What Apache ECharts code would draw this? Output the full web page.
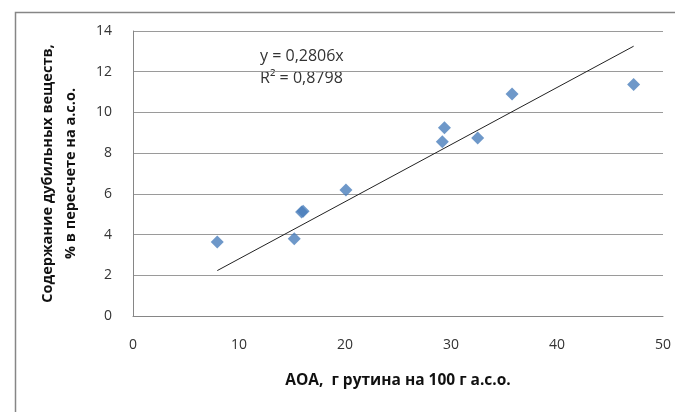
<!DOCTYPE html>
<html><head><meta charset="utf-8">
<script src="https://cdn.jsdelivr.net/npm/echarts@6/dist/echarts.min.js"></script>
<style>html,body{margin:0;padding:0;background:#fff}#c{width:675px;height:412px}</style>
</head><body><div id="c"></div>
<script>
// Data
const xValues = [7.95, 15.21, 15.9, 16.05, 20.09, 29.18, 29.38, 32.52, 35.76, 47.23];
const yValues = [3.64, 3.79, 5.11, 5.15, 6.19, 8.56, 9.25, 8.74, 10.90, 11.37];
const trendSlope = 0.2806;
const equationText = 'y = 0,2806x';
const r2Text = 'R² = 0,8798';
const xTitle = 'АОА,  г рутина на 100 г а.с.о.';
const yTitle = 'Содержание дубильных веществ,\n% в пересчете на а.с.о.';

const points = xValues.map((x, i) => [x, yValues[i]]);
const xMin = Math.min(...xValues), xMax = Math.max(...xValues);
const trend = [[xMin, trendSlope * xMin], [xMax, trendSlope * xMax]];

const FONT = '"Open Sans", sans-serif';
const chart = echarts.init(document.getElementById('c'), null, {renderer: 'canvas'});
chart.setOption({
  animation: false,
  backgroundColor: '#fff',
  grid: {left: 133, right: 12, top: 31, bottom: 96, containLabel: false},
  xAxis: {
    type: 'value', min: 0, max: 50, interval: 10,
    axisLine: {show: true, lineStyle: {color: '#868686', width: 1}},
    axisTick: {show: false},
    splitLine: {show: false},
    axisLabel: {color: '#333', fontFamily: FONT, fontSize: 14, margin: 22},
    name: xTitle, nameLocation: 'middle', nameGap: 57,
    nameTextStyle: {color: '#111', fontFamily: FONT, fontSize: 15.5, fontWeight: 'bold'}
  },
  yAxis: {
    type: 'value', min: 0, max: 14, interval: 2,
    axisLine: {show: true, lineStyle: {color: '#868686', width: 1}},
    axisTick: {show: false},
    splitLine: {show: true, lineStyle: {color: '#9a9a9a', width: 1}},
    axisLabel: {color: '#333', fontFamily: FONT, fontSize: 14, margin: 21},
    name: yTitle, nameLocation: 'middle', nameGap: 51, nameRotate: 90,
    nameTextStyle: {color: '#111', fontFamily: FONT, fontSize: 14.5, fontWeight: 'bold', lineHeight: 23, align: 'center'}
  },
  series: [
    {
      type: 'line', data: trend, symbol: 'none', silent: true,
      lineStyle: {color: '#222', width: 1}, z: 3
    },
    {
      type: 'scatter', data: points, symbol: 'diamond', symbolSize: 13,
      itemStyle: {color: '#4a7ebb'}, z: 4
    }
  ],
  graphic: [
    {type: 'rect', left: 13, top: 10, shape: {width: 700, height: 430},
     style: {fill: 'none', stroke: '#868686', lineWidth: 1.5}, silent: true},
    {type: 'text', x: 260, y: 56, style: {text: equationText, fill: '#333', font: '16px ' + FONT, verticalAlign: 'middle'}},
    {type: 'text', x: 260, y: 78, style: {text: r2Text, fill: '#333', font: '16px ' + FONT, verticalAlign: 'middle'}}
  ]
});
</script>
</body></html>
